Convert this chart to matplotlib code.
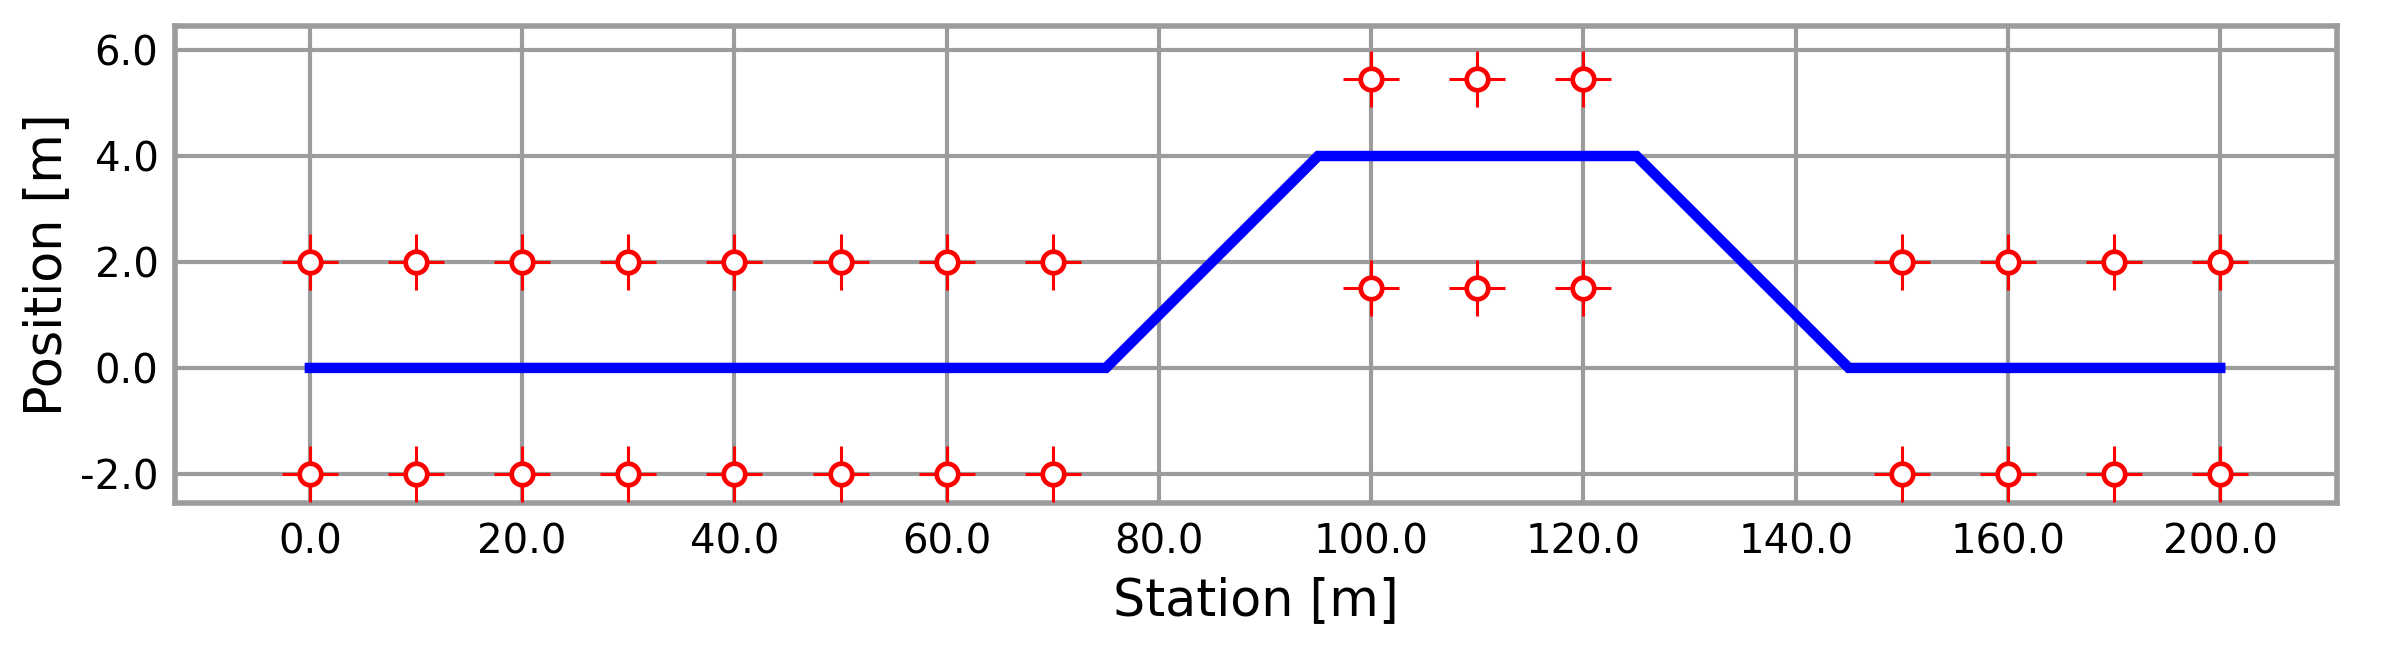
import matplotlib
matplotlib.use("Agg")
import matplotlib.pyplot as plt

# Data
line_x = [0, 75, 95, 125, 145, 180]
line_y = [0.0, 0.0, 4.0, 4.0, 0.0, 0.0]

left_x = [0, 10, 20, 30, 40, 50, 60, 70]
mid_x = [100, 110, 120]
right_x = [150, 160, 170, 180]
outer_upper = 2.0
outer_lower = -2.0
mid_upper = 5.45
mid_lower = 1.5

xtick_pos = [0, 20, 40, 60, 80, 100, 120, 140, 160, 180]
xtick_labels = ["0.0", "20.0", "40.0", "60.0", "80.0", "100.0", "120.0", "140.0", "160.0", "200.0"]
ytick_pos = [-2, 0, 2, 4, 6]
ytick_labels = ["-2.0", "0.0", "2.0", "4.0", "6.0"]

grid_c = "#9c9c9c"

fig = plt.figure(figsize=(23.92, 6.55), dpi=100)
ax = fig.add_axes([0.0732, 0.232, 0.977 - 0.0732, 0.960 - 0.232])

ax.plot(line_x, line_y, color="blue", lw=7.5, solid_joinstyle="miter", zorder=3)

mx = left_x + left_x + mid_x + mid_x + right_x + right_x
my = ([outer_upper] * len(left_x) + [outer_lower] * len(left_x)
      + [mid_upper] * len(mid_x) + [mid_lower] * len(mid_x)
      + [outer_upper] * len(right_x) + [outer_lower] * len(right_x))

ax.plot(mx, my, ls="none", marker="+", ms=40, mew=2.2, color="red", zorder=4)
ax.plot(mx, my, ls="none", marker="o", ms=15.5, mew=3.4, mfc="white", mec="red", zorder=5)

ax.set_xlim(-12.7, 191.0)
ax.set_ylim(-2.55, 6.45)
ax.set_xticks(xtick_pos)
ax.set_xticklabels(xtick_labels)
ax.set_yticks(ytick_pos)
ax.set_yticklabels(ytick_labels)

ax.grid(True, color=grid_c, lw=3.0)
ax.set_axisbelow(True)
for s in ax.spines.values():
    s.set_color(grid_c)
    s.set_linewidth(4)

ax.tick_params(axis="both", length=0, labelsize=29, colors="black")
ax.tick_params(axis="y", pad=12)
ax.tick_params(axis="x", pad=14)

ax.set_xlabel("Station [m]", fontsize=36.5, labelpad=10)
ax.set_ylabel("Position [m]", fontsize=36.5, labelpad=6)

fig.savefig("out.png", dpi=100)
